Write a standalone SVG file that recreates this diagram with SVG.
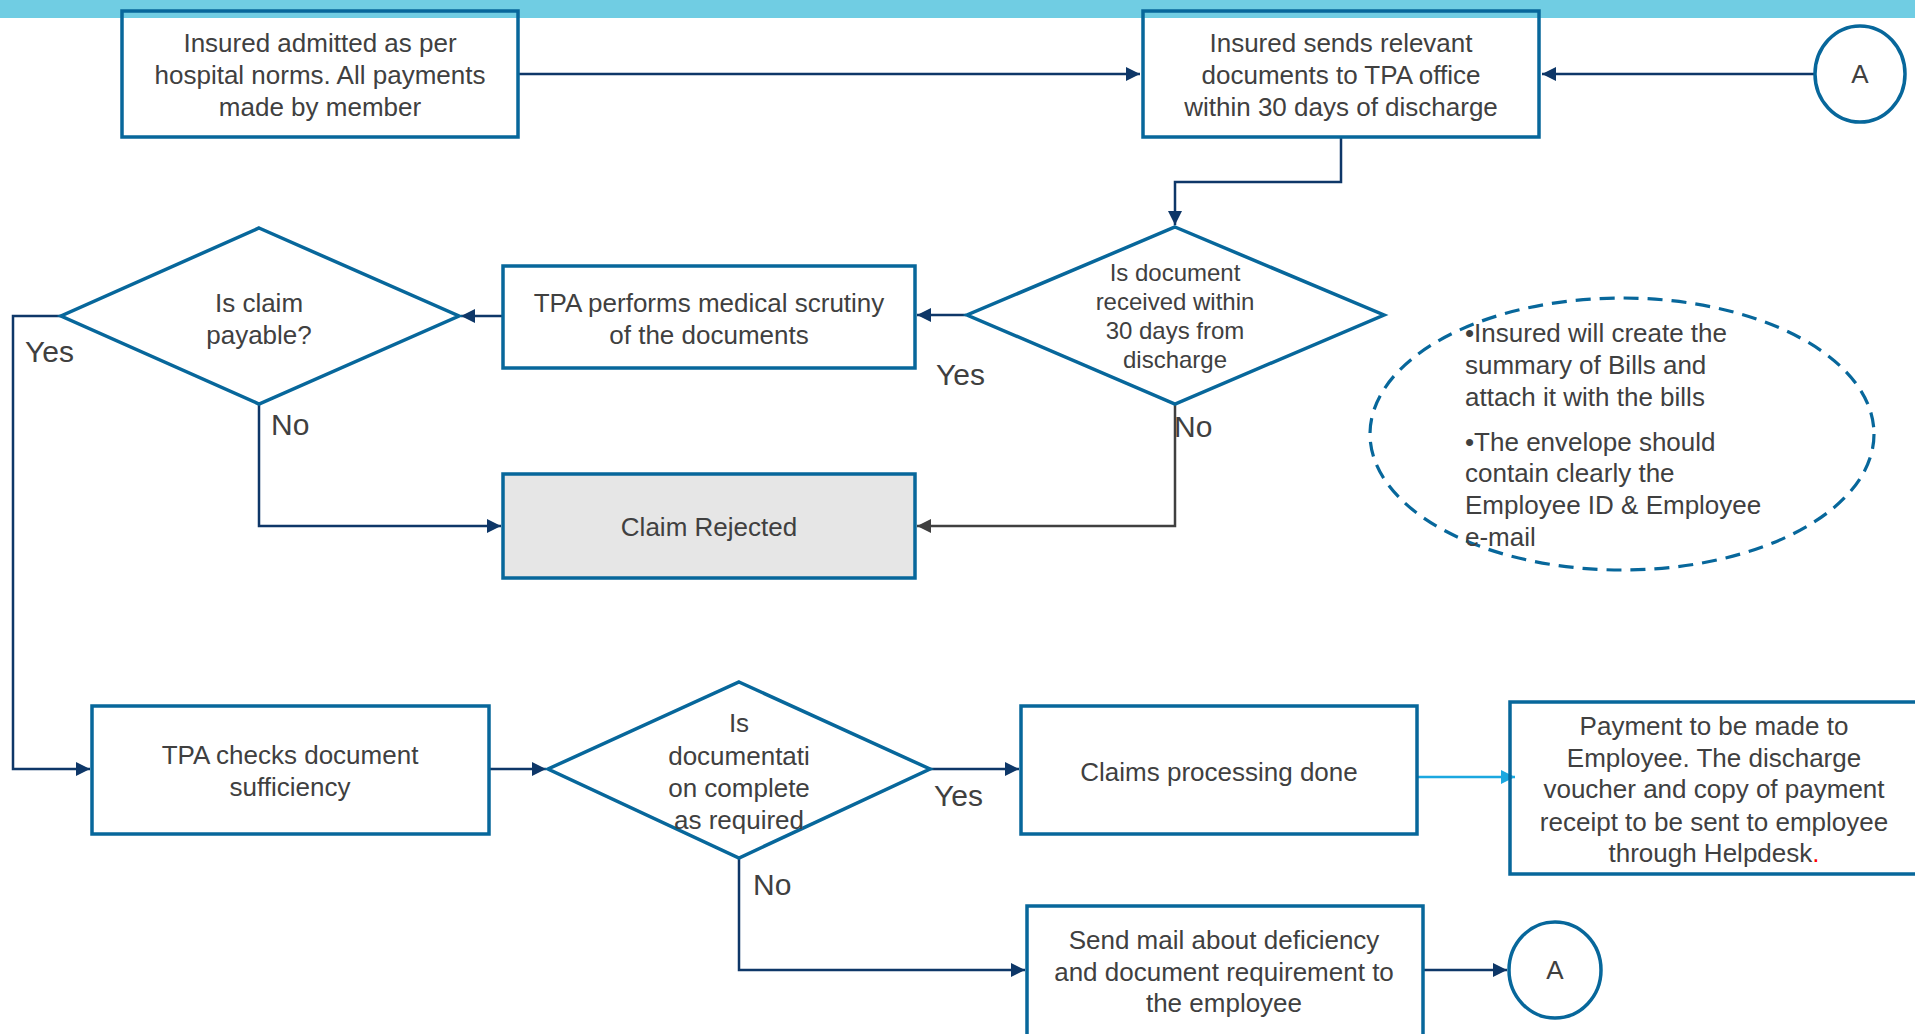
<svg xmlns="http://www.w3.org/2000/svg" width="1915" height="1034" viewBox="0 0 1915 1034">
<defs>
<style>
.node{fill:none;stroke:#07679B;stroke-width:3.5}
.t{font-family:"Liberation Sans",Arial,sans-serif;font-size:26px;fill:#404040;text-anchor:middle}
.ts{font-family:"Liberation Sans",Arial,sans-serif;font-size:24px;fill:#404040;text-anchor:middle}
.lbl{font-family:"Liberation Sans",Arial,sans-serif;font-size:30px;fill:#404040}
.note{font-family:"Liberation Sans",Arial,sans-serif;font-size:26px;fill:#404040}
.c{fill:none;stroke:#0E3768;stroke-width:2.5}
</style>
<marker id="ah" viewBox="0 0 10 10" refX="10" refY="5" markerWidth="5.6" markerHeight="5.6" orient="auto" markerUnits="strokeWidth"><path d="M0,0 L10,5 L0,10 z" fill="#0E3768"/></marker>
<marker id="ahg" viewBox="0 0 10 10" refX="10" refY="5" markerWidth="5.6" markerHeight="5.6" orient="auto" markerUnits="strokeWidth"><path d="M0,0 L10,5 L0,10 z" fill="#404040"/></marker>
<marker id="ahb" viewBox="0 0 10 10" refX="10" refY="5" markerWidth="5.6" markerHeight="5.6" orient="auto" markerUnits="strokeWidth"><path d="M0,0 L10,5 L0,10 z" fill="#1BA8E0"/></marker>
</defs>
<rect x="0" y="0" width="1915" height="1034" fill="#FFFFFF"/>
<rect x="0" y="0" width="1915" height="18" fill="#70CDE3"/>

<g id="connectors">
<line class="c" x1="519" y1="74" x2="1140" y2="74" marker-end="url(#ah)"/>
<line class="c" x1="1814" y1="74" x2="1542" y2="74" marker-end="url(#ah)"/>
<polyline class="c" points="1341,138 1341,182 1175,182 1175,225" marker-end="url(#ah)"/>
<line class="c" x1="966" y1="315" x2="917" y2="315" marker-end="url(#ah)"/>
<line class="c" x1="503" y1="316" x2="461" y2="316" marker-end="url(#ah)"/>
<polyline class="c" points="259,404 259,526 501,526" marker-end="url(#ah)"/>
<polyline fill="none" stroke="#404040" stroke-width="2.5" points="1175,404 1175,526 917,526" marker-end="url(#ahg)"/>
<polyline class="c" points="61,316 13,316 13,769 90,769" marker-end="url(#ah)"/>
<line class="c" x1="489" y1="769" x2="546" y2="769" marker-end="url(#ah)"/>
<line class="c" x1="930" y1="769" x2="1019" y2="769" marker-end="url(#ah)"/>
<line fill="none" stroke="#1BA8E0" stroke-width="2.5" x1="1417" y1="777" x2="1515" y2="777" marker-end="url(#ahb)"/>
<polyline class="c" points="739,858 739,970 1025,970" marker-end="url(#ah)"/>
<line class="c" x1="1423" y1="970" x2="1507" y2="970" marker-end="url(#ah)"/>
</g>

<g id="labels">
<text class="lbl" x="25" y="362">Yes</text>
<text class="lbl" x="271" y="435">No</text>
<text class="lbl" x="936" y="385">Yes</text>
<text class="lbl" x="1174" y="437">No</text>
<text class="lbl" x="934" y="806">Yes</text>
<text class="lbl" x="753" y="895">No</text>
</g>

<g id="n-admitted">
<rect class="node" x="122" y="11" width="396" height="126"/>
<text class="t" x="320" y="52">Insured admitted as per</text>
<text class="t" x="320" y="84">hospital norms. All payments</text>
<text class="t" x="320" y="116">made by member</text>
</g>

<g id="n-sends">
<rect class="node" x="1143" y="11" width="396" height="126"/>
<text class="t" x="1341" y="52">Insured sends relevant</text>
<text class="t" x="1341" y="84">documents to TPA office</text>
<text class="t" x="1341" y="116">within 30 days of discharge</text>
</g>

<g id="n-a-top">
<ellipse class="node" cx="1860" cy="74" rx="45" ry="48"/>
<text class="t" x="1860" y="83">A</text>
</g>

<g id="n-received">
<polygon class="node" points="1175,227 1384,315 1175,404 967,315"/>
<text class="ts" x="1175" y="281">Is document</text>
<text class="ts" x="1175" y="310">received within</text>
<text class="ts" x="1175" y="339">30 days from</text>
<text class="ts" x="1175" y="368">discharge</text>
</g>

<g id="n-scrutiny">
<rect class="node" x="503" y="266" width="412" height="102"/>
<text class="t" x="709" y="312">TPA performs medical scrutiny</text>
<text class="t" x="709" y="344">of the documents</text>
</g>

<g id="n-payable">
<polygon class="node" points="259,228 459,316 259,404 61,316"/>
<text class="t" x="259" y="312">Is claim</text>
<text class="t" x="259" y="344">payable?</text>
</g>

<g id="n-rejected">
<rect x="503" y="474" width="412" height="104" fill="#E6E6E6" stroke="#07679B" stroke-width="3.5"/>
<text class="t" x="709" y="536">Claim Rejected</text>
</g>

<g id="n-note">
<ellipse cx="1622" cy="434" rx="252" ry="136" fill="none" stroke="#07679B" stroke-width="3.2" stroke-dasharray="15,9"/>
<text class="note" x="1465" y="342">•Insured will create the</text>
<text class="note" x="1465" y="374">summary of Bills and</text>
<text class="note" x="1465" y="406">attach it with the bills</text>
<text class="note" x="1465" y="451">•The envelope should</text>
<text class="note" x="1465" y="482">contain clearly the</text>
<text class="note" x="1465" y="514">Employee ID &amp; Employee</text>
<text class="note" x="1465" y="546">e-mail</text>
</g>

<g id="n-sufficiency">
<rect class="node" x="92" y="706" width="397" height="128"/>
<text class="t" x="290" y="764">TPA checks document</text>
<text class="t" x="290" y="796">sufficiency</text>
</g>

<g id="n-complete">
<polygon class="node" points="739,682 930,769 739,858 548,769"/>
<text class="t" x="739" y="732">Is</text>
<text class="t" x="739" y="765">documentati</text>
<text class="t" x="739" y="797">on complete</text>
<text class="t" x="739" y="829">as required</text>
</g>

<g id="n-processing">
<rect class="node" x="1021" y="706" width="396" height="128"/>
<text class="t" x="1219" y="781">Claims processing done</text>
</g>

<g id="n-payment">
<rect class="node" x="1510" y="702" width="420" height="172"/>
<text class="t" x="1714" y="735">Payment to be made to</text>
<text class="t" x="1714" y="767">Employee. The discharge</text>
<text class="t" x="1714" y="798">voucher and copy of payment</text>
<text class="t" x="1714" y="831">receipt to be sent to employee</text>
<text class="t" x="1714" y="862">through Helpdesk<tspan fill="#FF0000">.</tspan></text>
</g>

<g id="n-mail">
<rect class="node" x="1027" y="906" width="396" height="140"/>
<text class="t" x="1224" y="949">Send mail about deficiency</text>
<text class="t" x="1224" y="981">and document requirement to</text>
<text class="t" x="1224" y="1012">the employee</text>
</g>

<g id="n-a-bottom">
<ellipse class="node" cx="1555" cy="970" rx="46" ry="48"/>
<text class="t" x="1555" y="979">A</text>
</g>
</svg>
